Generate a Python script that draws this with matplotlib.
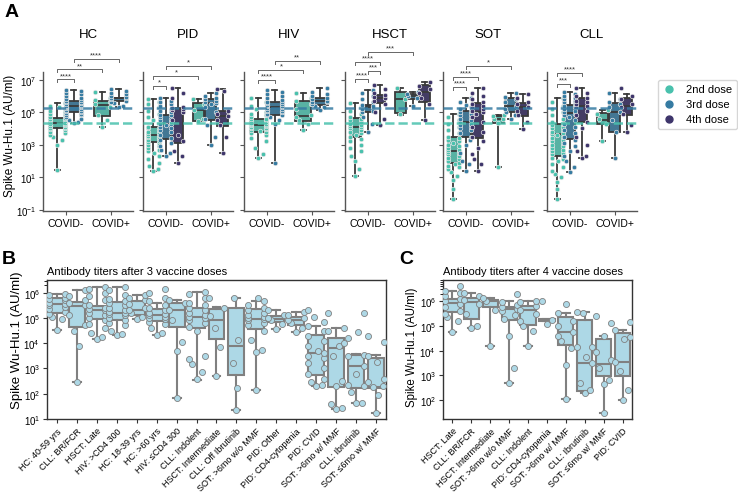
import colorsys
import numpy as np
import matplotlib
matplotlib.use("Agg")
import matplotlib.pyplot as plt
from matplotlib.lines import Line2D
from matplotlib.colors import to_rgb

plt.rcParams["font.family"] = ["Liberation Sans", "DejaVu Sans"]
plt.rcParams["mathtext.default"] = "regular"

# ---------------- data (log10 AU/ml) ----------------
panels_A = ["HC", "PID", "HIV", "HSCT", "SOT", "CLL"]
status_labels = ["COVID-", "COVID+"]
doses_A = [[2, 3], [2, 3, 4], [2, 3], [2, 3, 4], [2, 3, 4], [2, 3, 4]]
dose_names = {2: "2nd dose", 3: "3rd dose", 4: "4th dose"}

# (status, dose, whislo, q1, med, q3, whishi)
hc_box = [(0, 2, 1.45, 4.0, 4.32, 4.67, 5.55), (0, 3, 4.32, 4.98, 5.35, 5.66, 6.37),
          (1, 2, 4.1, 4.74, 5.43, 5.7, 6.21), (1, 3, 5.29, 5.66, 5.86, 5.9, 6.42)]
pid_box = [(0, 2, 1.37, 3.14, 3.58, 4.06, 5.8), (0, 3, 2.31, 3.34, 4.26, 4.83, 5.86),
           (0, 4, 1.9, 3.09, 5.18, 5.25, 6.46), (1, 2, 4.44, 4.46, 5.12, 5.54, 5.8),
           (1, 3, 2.97, 4.51, 5.54, 5.8, 6.15), (1, 4, 2.48, 4.16, 4.77, 5.06, 6.42)]
hiv_box = [(0, 2, 2.15, 3.81, 4.22, 4.57, 5.86), (0, 3, 1.86, 4.83, 5.29, 5.6, 6.37),
           (1, 2, 3.89, 4.43, 4.74, 5.66, 6.17), (1, 3, 5.12, 5.43, 5.66, 5.88, 6.46)]
hsct_box = [(0, 2, 1.08, 3.48, 4.1, 4.61, 5.55), (0, 3, 3.81, 5.02, 5.33, 5.43, 6.37),
            (0, 4, 4.2, 5.54, 5.9, 6.05, 6.66), (1, 2, 4.85, 4.92, 5.8, 6.21, 6.48),
            (1, 3, 5.39, 5.8, 5.97, 6.1, 6.25), (1, 4, 4.51, 5.64, 6.21, 6.66, 6.83)]
sot_box = [(0, 2, -0.35, 1.9, 2.62, 3.48, 4.88), (0, 3, 1.39, 3.48, 4.4, 5.08, 5.84),
           (0, 4, 1.39, 3.44, 4.98, 5.55, 6.46), (1, 2, 1.63, 4.32, 4.57, 4.74, 4.82),
           (1, 3, 4.57, 4.98, 5.39, 5.84, 6.17), (1, 4, 3.95, 4.77, 5.29, 5.55, 6.11)]
cll_box = [(0, 2, -0.35, 2.31, 3.65, 4.26, 5.84), (0, 3, 1.33, 3.34, 4.94, 5.45, 6.25),
           (0, 4, 2.15, 4.37, 5.39, 5.86, 6.46), (1, 2, 3.2, 4.26, 4.53, 4.92, 5.12),
           (1, 3, 2.17, 3.79, 5.02, 5.54, 6.15), (1, 4, 3.75, 4.83, 5.39, 5.84, 6.11)]

hc_pts = {
    (0, 2): [1.45, 3.0, 3.3, 3.5, 3.6, 3.7, 3.8, 3.9, 3.95, 4.0, 4.05, 4.1, 4.15, 4.2, 4.25, 4.3, 4.3,
             4.35, 4.4, 4.45, 4.5, 4.55, 4.6, 4.65, 4.7, 4.8, 4.9, 5.0, 5.1, 5.2, 5.3, 5.4, 5.55],
    (0, 3): [4.32, 4.4, 4.5, 4.6, 4.7, 4.8, 4.85, 4.9, 4.95, 5.0, 5.05, 5.1, 5.15, 5.2, 5.25, 5.3, 5.33,
             5.36, 5.4, 5.45, 5.5, 5.55, 5.6, 5.65, 5.7, 5.75, 5.8, 5.9, 6.0, 6.1, 6.2, 6.3, 6.37],
    (1, 2): [4.1, 4.5, 4.8, 5.3, 5.5, 5.6, 5.75, 5.9, 6.21],
    (1, 3): [5.29, 5.4, 5.55, 5.65, 5.7, 5.8, 5.85, 5.9, 5.95, 6.0, 6.1, 6.2, 6.3, 6.42],
}
pid_pts = {
    (0, 2): [1.37, 1.5, 1.7, 1.9, 2.1, 2.3, 2.5, 2.6, 2.7, 2.8, 2.9, 3.0, 3.1, 3.15, 3.2, 3.3, 3.4, 3.45,
             3.5, 3.55, 3.6, 3.65, 3.7, 3.8, 3.9, 4.0, 4.05, 4.1, 4.3, 4.5, 4.7, 4.9, 5.1, 5.3, 5.5, 5.65, 5.8],
    (0, 3): [2.31, 2.5, 2.7, 2.9, 3.1, 3.3, 3.4, 3.6, 3.8, 3.9, 4.0, 4.1, 4.2, 4.25, 4.3, 4.4, 4.5, 4.6,
             4.7, 4.8, 4.85, 5.0, 5.1, 5.2, 5.35, 5.5, 5.6, 5.7, 5.86],
    (0, 4): [1.9, 2.3, 2.6, 3.2, 3.6, 4.5, 5.0, 5.15, 5.2, 5.25, 5.3, 5.9, 6.2, 6.46],
    (1, 2): [4.44, 4.6, 5.12, 5.5, 5.8],
    (1, 3): [2.97, 3.5, 4.2, 4.6, 5.0, 5.3, 5.5, 5.55, 5.6, 5.7, 5.8, 5.9, 6.0, 6.15],
    (1, 4): [2.48, 3.5, 4.2, 4.5, 4.77, 4.9, 5.05, 6.3, 6.42],
}
hiv_pts = {
    (0, 2): [2.15, 2.4, 2.8, 3.2, 3.4, 3.6, 3.7, 3.8, 3.85, 3.9, 3.95, 4.0, 4.05, 4.1, 4.15, 4.2, 4.22,
             4.25, 4.3, 4.35, 4.4, 4.45, 4.5, 4.55, 4.6, 4.7, 4.8, 4.9, 5.0, 5.2, 5.4, 5.6, 5.86],
    (0, 3): [1.86, 4.3, 4.5, 4.7, 4.8, 4.85, 4.9, 5.0, 5.05, 5.1, 5.15, 5.2, 5.25, 5.3, 5.35, 5.4, 5.45,
             5.5, 5.55, 5.6, 5.65, 5.75, 5.85, 6.0, 6.1, 6.25, 6.37],
    (1, 2): [3.89, 4.3, 4.5, 4.7, 4.8, 5.2, 5.5, 5.7, 5.9, 6.17],
    (1, 3): [5.12, 5.3, 5.4, 5.5, 5.6, 5.65, 5.7, 5.8, 5.9, 6.0, 6.1, 6.25, 6.46],
}
hsct_pts = {
    (0, 2): [1.08, 1.5, 2.0, 2.3, 2.6, 2.8, 3.0, 3.2, 3.35, 3.5, 3.6, 3.7, 3.8, 3.9, 4.0, 4.1, 4.15, 4.2,
             4.3, 4.4, 4.5, 4.6, 4.7, 4.9, 5.1, 5.3, 5.55],
    (0, 3): [3.81, 4.3, 4.7, 5.0, 5.1, 5.2, 5.3, 5.35, 5.4, 5.45, 5.6, 5.8, 6.0, 6.2, 6.37],
    (0, 4): [4.2, 4.6, 5.0, 5.5, 5.7, 5.85, 5.95, 6.05, 6.2, 6.4, 6.66],
    (1, 2): [4.9, 5.8, 6.48],
    (1, 3): [5.39, 5.85, 6.0, 6.1, 6.25],
    (1, 4): [4.51, 5.5, 5.9, 6.2, 6.4, 6.6, 6.83],
}
sot_pts = {
    (0, 2): [-0.35, 0.3, 0.8, 1.1, 1.3, 1.5, 1.6, 1.7, 1.8, 1.9, 2.0, 2.1, 2.2, 2.3, 2.4, 2.5, 2.55, 2.6,
             2.65, 2.7, 2.8, 2.9, 3.0, 3.1, 3.2, 3.3, 3.4, 3.5, 3.7, 3.9, 4.1, 4.3, 4.5, 4.7, 4.88],
    (0, 3): [1.39, 1.8, 2.0, 2.5, 3.0, 3.3, 3.5, 3.7, 3.9, 4.0, 4.1, 4.2, 4.3, 4.4, 4.5, 4.6, 4.7, 4.8,
             4.9, 5.0, 5.1, 5.2, 5.3, 5.45, 5.6, 5.84],
    (0, 4): [1.39, 1.8, 2.1, 2.4, 2.8, 3.2, 3.5, 3.8, 4.1, 4.4, 4.7, 4.9, 5.0, 5.1, 5.2, 5.3, 5.4, 5.5,
             5.6, 5.8, 6.0, 6.2, 6.46],
    (1, 2): [1.63, 4.35, 4.55, 4.6, 4.75, 4.82],
    (1, 3): [4.57, 4.8, 5.0, 5.2, 5.4, 5.6, 5.8, 5.95, 6.17],
    (1, 4): [3.95, 4.4, 4.8, 5.1, 5.3, 5.5, 5.6, 5.9, 6.11],
}
cll_pts = {
    (0, 2): [-0.35, 0.3, 0.7, 1.0, 1.2, 1.4, 1.6, 1.8, 2.0, 2.1, 2.2, 2.3, 2.4, 2.5, 2.6, 2.7, 2.8, 2.9,
             3.0, 3.1, 3.2, 3.3, 3.4, 3.5, 3.6, 3.65, 3.7, 3.8, 3.9, 4.0, 4.1, 4.2, 4.3, 4.4, 4.6, 4.8,
             5.0, 5.2, 5.4, 5.6, 5.84],
    (0, 3): [1.33, 1.6, 2.0, 2.3, 2.6, 2.9, 3.1, 3.3, 3.5, 3.7, 3.9, 4.1, 4.3, 4.5, 4.7, 4.8, 4.9, 5.0,
             5.1, 5.2, 5.3, 5.4, 5.5, 5.6, 5.7, 5.8, 5.9, 6.0, 6.1, 6.25],
    (0, 4): [2.15, 2.3, 2.6, 3.0, 3.5, 4.0, 4.4, 4.8, 5.1, 5.3, 5.4, 5.5, 5.6, 5.7, 5.85, 6.0, 6.2, 6.46],
    (1, 2): [3.2, 4.3, 4.55, 4.9, 5.12],
    (1, 3): [2.17, 3.8, 4.5, 5.0, 5.3, 5.5, 5.6, 5.8, 6.15],
    (1, 4): [3.75, 4.2, 4.9, 5.3, 5.5, 5.8, 6.0, 6.46],
}

# significance: group a, group b, label, bracket level (log10)
hc_sig = [((0, 2), (0, 3), "****", 7.02), ((0, 2), (1, 2), "**", 7.64), ((0, 3), (1, 3), "****", 8.26)]
pid_sig = [((0, 2), (0, 3), "*", 6.61), ((0, 2), (1, 2), "*", 7.23), ((0, 3), (1, 3), "*", 7.84)]
hiv_sig = [((0, 2), (0, 3), "****", 6.98), ((0, 2), (1, 2), "*", 7.6), ((0, 3), (1, 3), "**", 8.15)]
hsct_sig = [((0, 2), (0, 3), "****", 7.04), ((0, 3), (0, 4), "***", 7.54),
            ((0, 2), (0, 4), "****", 8.09), ((0, 3), (1, 3), "***", 8.7)]
sot_sig = [((0, 2), (0, 3), "****", 6.55), ((0, 2), (0, 4), "****", 7.17), ((0, 3), (1, 3), "*", 7.84)]
cll_sig = [((0, 2), (0, 3), "***", 6.74), ((0, 2), (0, 4), "****", 7.41)]

# reference medians (dashed lines)
ref_d3 = 5.27
ref_d2 = 4.32

# panel B : 3 doses
b_labels = ["HC: 40-59 yrs", "CLL: BR/FCR", "HSCT: Late", "HIV: >CD4 300", "HC: 18-39 yrs",
            "HC: >60 yrs", "HIV: \u2264CD4 300", "CLL: Indolent", "HSCT: Intermediate",
            "CLL: Off Ibrutinib", "SOT: >6mo w/o MMF", "PID: Other", "PID: CD4-cytopenia",
            "PID: CVID", "SOT: >6mo w/ MMF", "CLL: Ibrutinib", "SOT: \u22646mo w/ MMF"]
b_box = [(4.52, 5.18, 5.54, 5.77, 5.93), (2.48, 4.66, 5.47, 5.64, 6.1), (4.18, 4.94, 5.31, 5.47, 6.24),
         (4.31, 4.92, 5.21, 5.63, 6.24), (4.94, 5.11, 5.3, 5.67, 5.9), (4.31, 4.88, 5.1, 5.34, 5.6),
         (1.85, 4.66, 5.31, 5.58, 5.7), (2.53, 4.59, 5.04, 5.41, 6.02), (2.7, 4.18, 4.91, 5.37, 5.43),
         (1.35, 2.73, 3.87, 5.41, 5.79), (2.14, 4.58, 4.97, 5.34, 5.67), (4.58, 4.84, 4.97, 5.09, 5.3),
         (4.44, 4.71, 4.9, 5.04, 5.25), (2.31, 2.74, 3.6, 4.31, 4.68), (1.39, 2.27, 3.81, 4.21, 4.62),
         (1.62, 2.22, 3.1, 3.52, 3.56), (1.23, 2.22, 2.25, 3.4, 3.52)]
b_pts = [
    [4.52, 4.95, 5.05, 5.15, 5.25, 5.35, 5.45, 5.5, 5.55, 5.6, 5.7, 5.75, 5.8, 5.9, 5.93],
    [2.48, 3.87, 4.5, 4.7, 5.1, 5.5, 5.6, 5.7, 5.85, 6.1],
    [4.18, 4.25, 4.4, 4.6, 4.75, 4.9, 5.0, 5.1, 5.2, 5.3, 5.35, 5.4, 5.5, 5.7, 5.85, 6.0, 6.15, 6.24],
    [4.31, 4.35, 4.5, 4.7, 4.8, 4.9, 5.0, 5.1, 5.15, 5.2, 5.25, 5.3, 5.4, 5.5, 5.6, 5.65, 5.75, 5.9, 6.1, 6.24],
    [4.94, 5.05, 5.2, 5.3, 5.4, 5.55, 5.7, 5.8, 5.9],
    [4.31, 4.4, 4.6, 4.75, 4.85, 4.95, 5.0, 5.05, 5.1, 5.15, 5.2, 5.3, 5.4, 5.5, 5.65, 5.8, 6.0, 6.16],
    [1.85, 3.69, 4.06, 4.9, 5.3, 5.6, 5.7],
    [2.57, 2.84, 3.17, 3.37, 3.5, 4.5, 4.65, 4.8, 4.9, 5.0, 5.05, 5.1, 5.2, 5.3, 5.4, 5.5, 5.6, 5.8, 5.95, 6.02],
    [2.7, 3.85, 4.6, 5.06, 5.4, 5.8],
    [1.35, 2.22, 3.2, 4.13, 5.79],
    [2.14, 3.64, 3.72, 4.11, 4.5, 4.7, 4.8, 4.9, 4.95, 5.0, 5.05, 5.1, 5.2, 5.3, 5.4, 5.5, 5.67, 5.8],
    [4.58, 4.75, 4.9, 5.0, 5.1, 5.3],
    [4.44, 4.6, 4.8, 4.9, 5.0, 5.1, 5.25],
    [2.31, 2.35, 2.45, 2.6, 2.8, 3.0, 3.2, 3.4, 3.5, 3.6, 3.7, 3.9, 4.1, 4.3, 4.5, 4.68, 4.84, 5.04, 5.3],
    [1.39, 1.45, 1.61, 2.3, 2.51, 3.5, 3.9, 4.0, 4.5, 4.62, 5.18],
    [1.62, 1.65, 2.05, 2.3, 2.35, 2.8, 3.1, 3.5, 3.55, 4.2, 4.46, 5.18],
    [1.23, 1.95, 2.25, 2.3, 2.47, 2.6, 3.26, 3.5, 4.05, 4.28],
]

# panel C : 4 doses
c_labels = ["HSCT: Late", "CLL: BR/FCR", "HSCT: Intermediate", "SOT: >6mo w/o MMF", "CLL: Indolent",
            "PID: CD4-cytopenia", "SOT: >6mo w/ MMF", "CLL: Ibrutinib", "SOT: \u22646mo w/ MMF", "PID: CVID"]
c_box = [(4.74, 5.55, 5.93, 6.09, 6.4), (4.91, 5.28, 5.98, 6.12, 6.34), (4.18, 5.76, 6.02, 6.05, 6.13),
         (2.68, 5.24, 5.69, 5.78, 6.0), (4.2, 5.05, 5.66, 5.82, 6.02), (5.2, 5.2, 5.24, 5.28, 5.28),
         (2.02, 4.24, 4.77, 5.35, 5.51), (2.28, 2.36, 3.5, 5.25, 5.55), (1.48, 2.99, 3.46, 4.47, 4.6),
         (2.0, 2.96, 3.55, 4.7, 4.84)]
c_pts = [
    [4.74, 5.2, 5.35, 5.5, 5.6, 5.75, 5.9, 6.0, 6.1, 6.2, 6.35, 6.4, 6.6],
    [4.91, 5.0, 5.49, 5.9, 6.05, 6.2, 6.34],
    [4.18, 5.66, 6.02, 6.13],
    [2.68, 3.29, 4.6, 5.3, 5.45, 5.6, 5.7, 5.75, 5.85, 5.95, 6.3],
    [4.2, 4.8, 5.0, 5.2, 5.5, 5.65, 5.8, 5.95, 6.02],
    [5.08, 5.24, 6.0],
    [2.02, 3.43, 4.1, 4.4, 4.6, 4.77, 5.0, 5.2, 5.51, 5.89],
    [2.28, 2.4, 2.68, 3.5, 3.73, 4.14, 4.16, 5.53, 5.55],
    [1.48, 2.65, 2.81, 3.3, 3.6, 3.93, 4.6, 5.12, 5.42],
    [2.0, 2.42, 3.19, 3.55, 4.47, 4.57, 4.84, 5.15],
]

# ---------------- styling ----------------
dose_colors = {2: "#49C1AD", 3: "#357BA2", 4: "#3E356B"}


def desat(c, prop=0.75):
    h, l, s = colorsys.rgb_to_hls(*to_rgb(c))
    return colorsys.hls_to_rgb(h, l, s * prop)


W, H = 738, 502
fig = plt.figure(figsize=(W / 100, H / 100), dpi=100)


def px_axes(l, t, r, b):
    return fig.add_axes([l / W, 1 - b / H, (r - l) / W, (b - t) / H])


def swarm(ax, xc, vals, half_w_units, d_px):
    vals = np.asarray(vals, float)
    pts = ax.transData.transform(np.column_stack([np.full(len(vals), xc), vals]))
    x0 = pts[0, 0]
    ys = pts[:, 1]
    ppu = ax.transData.transform([[1, 1]])[0, 0] - ax.transData.transform([[0, 1]])[0, 0]
    half_w = half_w_units * ppu
    px_list, py_list = [], []
    offs = np.zeros(len(vals))
    for i in np.argsort(ys):
        y = ys[i]
        cands = [0.0]
        for px, py in zip(px_list, py_list):
            dy = abs(py - y)
            if dy < d_px:
                dx = np.sqrt(d_px ** 2 - dy ** 2)
                cands += [px + dx, px - dx]
        cands.sort(key=abs)
        best = None
        for c in cands:
            if all((c - px) ** 2 + (y - py) ** 2 >= d_px ** 2 - 1e-6 for px, py in zip(px_list, py_list)):
                best = c
                break
        if best is None:
            best = 0.0
        best = float(np.clip(best, -half_w, half_w))
        px_list.append(best)
        py_list.append(y)
        offs[i] = best
    back = ax.transData.inverted().transform(np.column_stack([x0 + offs, ys]))
    return back[:, 0], 10 ** vals


# ---------------- panel A ----------------
boxes_A = [hc_box, pid_box, hiv_box, hsct_box, sot_box, cll_box]
pts_A = [hc_pts, pid_pts, hiv_pts, hsct_pts, sot_pts, cll_pts]
sig_A = [hc_sig, pid_sig, hiv_sig, hsct_sig, sot_sig, cll_sig]
lefts_A = [43, 143, 244, 345, 443, 547]
edge_dark = "#3a3a3a"

for k, name in enumerate(panels_A):
    l = lefts_A[k]
    ax = px_axes(l, 73, l + 90, 212)
    ax.set_yscale("log")
    ax.set_xlim(-0.5, 1.5)
    ax.set_ylim(10 ** -1.08, 10 ** 7.47)
    doses = doses_A[k]
    n = len(doses)
    step = 0.267 if n == 3 else 0.36

    def pos(st, d):
        return st + (doses.index(d) - (n - 1) / 2) * step

    stats, positions, faces = [], [], []
    for st, d, lo, q1, med, q3, hi in boxes_A[k]:
        stats.append(dict(whislo=10 ** lo, q1=10 ** q1, med=10 ** med, q3=10 ** q3, whishi=10 ** hi, fliers=[]))
        positions.append(pos(st, d))
        faces.append(desat(dose_colors[d]))
    bp = ax.bxp(stats, positions=positions, widths=step * 0.98, patch_artist=True, showfliers=False,
                capwidths=step * 0.35,
                boxprops=dict(edgecolor=edge_dark, linewidth=1.3),
                whiskerprops=dict(color=edge_dark, linewidth=1.3),
                capprops=dict(color=edge_dark, linewidth=1.3),
                medianprops=dict(color=edge_dark, linewidth=1.3))
    for patch, fc in zip(bp["boxes"], faces):
        patch.set_facecolor(fc)
        patch.set_zorder(2)

    for (st, d), vals in pts_A[k].items():
        xs, ys = swarm(ax, pos(st, d), vals, step * 0.45, 4.3)
        ax.scatter(xs, ys, s=10.5, color=dose_colors[d], edgecolor="#e6e6e6", linewidth=0.5, zorder=3)

    ax.axhline(10 ** ref_d3, color=dose_colors[3], linestyle="--", linewidth=1.8, alpha=0.85, zorder=4)
    ax.axhline(10 ** ref_d2, color=dose_colors[2], linestyle="--", linewidth=1.8, alpha=0.85, zorder=4)

    for g1, g2, lab, lev in sig_A[k]:
        x1, x2 = pos(*g1), pos(*g2)
        ax.plot([x1, x1, x2, x2], [10 ** (lev - 0.17), 10 ** lev, 10 ** lev, 10 ** (lev - 0.17)],
                color="#666666", linewidth=0.7, clip_on=False, zorder=5)
        ax.text((x1 + x2) / 2, 10 ** (lev + 0.02), lab, ha="center", va="bottom", fontsize=5.5,
                color="#333333", clip_on=False)

    ax.set_xticks([0, 1])
    ax.set_xticklabels(status_labels, fontsize=7.5)
    ax.set_yticks([10 ** e for e in [-1, 1, 3, 5, 7]])
    ax.minorticks_off()
    if k == 0:
        ax.set_yticklabels([f"$10^{{{e}}}$" for e in [-1, 1, 3, 5, 7]], fontsize=7)
    else:
        ax.set_yticklabels([])
    for sp in ["top", "right"]:
        ax.spines[sp].set_visible(False)
    for sp in ["left", "bottom"]:
        ax.spines[sp].set_color("#555555")
        ax.spines[sp].set_linewidth(1)
    ax.tick_params(axis="both", length=3, width=0.8, color="#555555", pad=2)
    fig.text((l + 45) / W, 1 - 35 / H, name, ha="center", va="center", fontsize=9.5)

fig.text(10 / W, 1 - 136 / H, "Spike Wu-Hu.1 (AU/ml)", rotation=90, ha="center", va="center", fontsize=8.5)
fig.text(5 / W, 1 - 4 / H, "A", fontsize=14, fontweight="bold", va="top")

handles = [Line2D([], [], marker="o", linestyle="", color=dose_colors[d], markersize=5) for d in [2, 3, 4]]
leg = fig.legend(handles, [dose_names[d] for d in [2, 3, 4]], loc="upper right",
                 bbox_to_anchor=(737 / W, 1 - 81 / H), fontsize=8, frameon=True,
                 handletextpad=1.0, borderpad=0.4, labelspacing=0.45, handlelength=1.2,
                 borderaxespad=0)
leg.get_frame().set_edgecolor("#cccccc")


# ---------------- panels B and C ----------------
def titer_panel(ax, labels, box, pts):
    ax.set_yscale("log")
    ax.set_xlim(-0.5, len(labels) - 0.5)
    stats = [dict(whislo=10 ** a, q1=10 ** b, med=10 ** c, q3=10 ** d, whishi=10 ** e, fliers=[])
             for a, b, c, d, e in box]
    ax.bxp(stats, positions=range(len(labels)), widths=0.8, patch_artist=True, showfliers=False,
           capwidths=0.4,
           boxprops=dict(facecolor="#add8e6", edgecolor="#808080", linewidth=1.5),
           whiskerprops=dict(color="#808080", linewidth=1.5),
           capprops=dict(color="#808080", linewidth=1.5),
           medianprops=dict(color="#808080", linewidth=1.5))
    for i, vals in enumerate(pts):
        xs, ys = swarm(ax, i, vals, 0.4, 5.5)
        ax.scatter(xs, ys, s=19, color="#add8e6", edgecolor="#808080", linewidth=0.6, zorder=3)
    ax.set_xticks(range(len(labels)))
    ax.set_xticklabels(labels, rotation=45, ha="right", rotation_mode="anchor", fontsize=6.5)
    ax.tick_params(axis="both", length=3, width=0.8, color="#333333", pad=2, labelsize=7)
    ax.tick_params(axis="x", labelsize=6.5)
    for sp in ax.spines.values():
        sp.set_color("#333333")
        sp.set_linewidth(1)


axB = px_axes(47, 281, 386, 420)
axB.set_yscale("log")
axB.set_ylim(10 ** 1, 10 ** 6.5)
titer_panel(axB, b_labels, b_box, b_pts)
axB.set_yticks([10 ** e for e in range(1, 7)])
axB.set_yticklabels([f"$10^{{{e}}}$" for e in range(1, 7)])
axB.set_yticks([m * 1e6 for m in range(2, 4)], minor=True)
axB.tick_params(axis="y", which="minor", length=2, width=0.6)
axB.text(0, 1.03, "Antibody titers after 3 vaccine doses", transform=axB.transAxes, fontsize=8, va="bottom")

axC = px_axes(443, 281, 632, 420)
axC.set_yscale("log")
axC.set_ylim(10 ** 1.23, 10 ** 6.86)
titer_panel(axC, c_labels, c_box, c_pts)
axC.set_yticks([10 ** e for e in range(2, 7)])
axC.set_yticklabels([f"$10^{{{e}}}$" for e in range(2, 7)])
axC.set_yticks([m * 1e6 for m in range(2, 8)], minor=True)
axC.tick_params(axis="y", which="minor", length=2, width=0.6)
axC.text(0, 1.03, "Antibody titers after 4 vaccine doses", transform=axC.transAxes, fontsize=8, va="bottom")

fig.text(17 / W, 1 - 340 / H, "Spike Wu-Hu.1 (AU/ml)", rotation=90, ha="center", va="center", fontsize=9.5)
fig.text(412 / W, 1 - 347 / H, "Spike Wu-Hu.1 (AU/ml)", rotation=90, ha="center", va="center", fontsize=8.3)
fig.text(2 / W, 1 - 251 / H, "B", fontsize=14, fontweight="bold", va="top")
fig.text(399 / W, 1 - 251 / H, "C", fontsize=14, fontweight="bold", va="top")

fig.savefig("out.png", dpi=100)
